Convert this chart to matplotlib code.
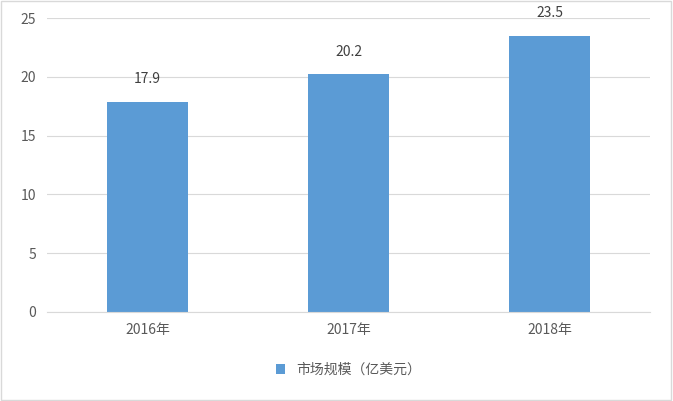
import matplotlib
matplotlib.use("Agg")
import matplotlib.pyplot as plt
from matplotlib.patches import Rectangle

plt.rcParams['font.family'] = ['Noto Sans CJK SC', 'DejaVu Sans']

years = ["2016年", "2017年", "2018年"]
values = [17.9, 20.2, 23.5]
series_name = "市场规模（亿美元）"

fig = plt.figure(figsize=(6.73, 4.01), dpi=100)
ax = fig.add_axes([0.07, 0.222, 0.896, 0.733])
x = range(len(years))
bars = ax.bar(x, values, width=0.4, color="#5B9BD5", label=series_name, zorder=2)
for b, v in zip(bars, values):
    ax.text(b.get_x() + b.get_width() / 2, v + 1.3, f"{v}", ha="center", va="bottom",
            fontsize=10, color="#404040")

ax.set_ylim(0, 25)
ax.set_xlim(-0.5, 2.5)
ax.set_yticks(range(0, 26, 5))
ax.set_xticks(list(x))
ax.set_xticklabels(years)
ax.grid(axis="y", color="#D9D9D9", linewidth=0.8, zorder=0)
for s in ["top", "right", "left"]:
    ax.spines[s].set_visible(False)
ax.spines["bottom"].set_color("#D9D9D9")
ax.tick_params(length=0, labelsize=10, colors="#595959", pad=8)

ax.legend(loc="upper center", bbox_to_anchor=(0.5, -0.13), frameon=False, fontsize=10,
          handlelength=0.7, handleheight=0.7, labelcolor="#595959")

fig.patches.append(Rectangle((0.002, 0.003), 0.995, 0.994, transform=fig.transFigure,
                             fill=False, edgecolor="#D9D9D9", linewidth=1))
fig.savefig("out.png", dpi=100)
